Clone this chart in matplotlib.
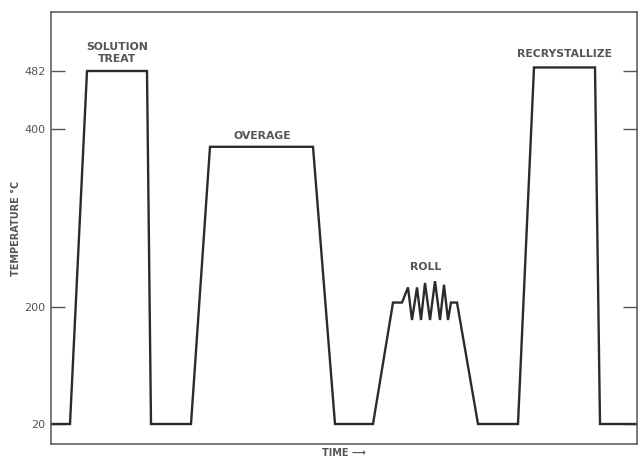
import numpy as np
import matplotlib
matplotlib.use("Agg")
import matplotlib.pyplot as plt

# heat treatment schedule, time in arbitrary units, temperature in deg C
time = [0, 19, 36, 96, 100, 140, 159, 262, 284, 322, 342, 351,
        357, 361, 366, 370, 374, 379, 384, 389, 393, 397, 400, 406,
        427, 467, 483, 544, 549, 586]
temp = [20, 20, 482, 482, 20, 20, 380, 380, 20, 20, 205, 205,
        222, 180, 222, 180, 227, 180, 229, 180, 225, 180, 205, 205,
        20, 20, 487, 487, 20, 20]

ytick_vals = [20, 200, 400, 482]

stages = ["SOLUTION\nTREAT", "OVERAGE", "ROLL", "RECRYSTALLIZE"]
stage_x = [66, 211, 375, 513]
stage_t = [492, 386, 239, 499]

# the original temperature axis is not linear, so map it piecewise
knots_t = np.array([-11, 20, 200, 400, 482, 565])
knots_h = np.array([-20, 0, 117, 295, 353, 412])

def fwd(t):
    return np.interp(t, knots_t, knots_h)

def inv(h):
    return np.interp(h, knots_h, knots_t)

ink = "#2b2b2b"
grey = "#555555"

fig = plt.figure(figsize=(6.4, 4.63), dpi=100)
ax = fig.add_axes([51/640, 19/463, 586/640, 432/463])
ax.set_yscale("function", functions=(fwd, inv))

ax.plot(time, temp, color=ink, lw=1.7, solid_joinstyle="miter")

ax.set_xlim(0, 586)
ax.set_ylim(-11, 565)
ax.set_yticks(ytick_vals)
ax.set_yticklabels([str(v) for v in ytick_vals])
ax.set_xticks([])
ax.yaxis.set_minor_locator(matplotlib.ticker.NullLocator())
ax.tick_params(axis="y", direction="in", length=10, width=1, color=grey,
               labelsize=8, labelcolor=grey, right=True, pad=4)

for s in ax.spines.values():
    s.set_color(grey)
    s.set_linewidth(1.1)

for lab, x, t in zip(stages, stage_x, stage_t):
    ax.text(x, t, lab, ha="center", va="bottom", fontsize=7.8,
            fontweight="bold", color=grey, linespacing=1.25)

ax.set_ylabel("TEMPERATURE °C", fontsize=7, fontweight="bold", color=grey,
              labelpad=2)
ax.set_xlabel("TIME \u27f6", fontsize=7, fontweight="bold", color=grey,
              labelpad=3)

fig.savefig("out.png", dpi=100)
